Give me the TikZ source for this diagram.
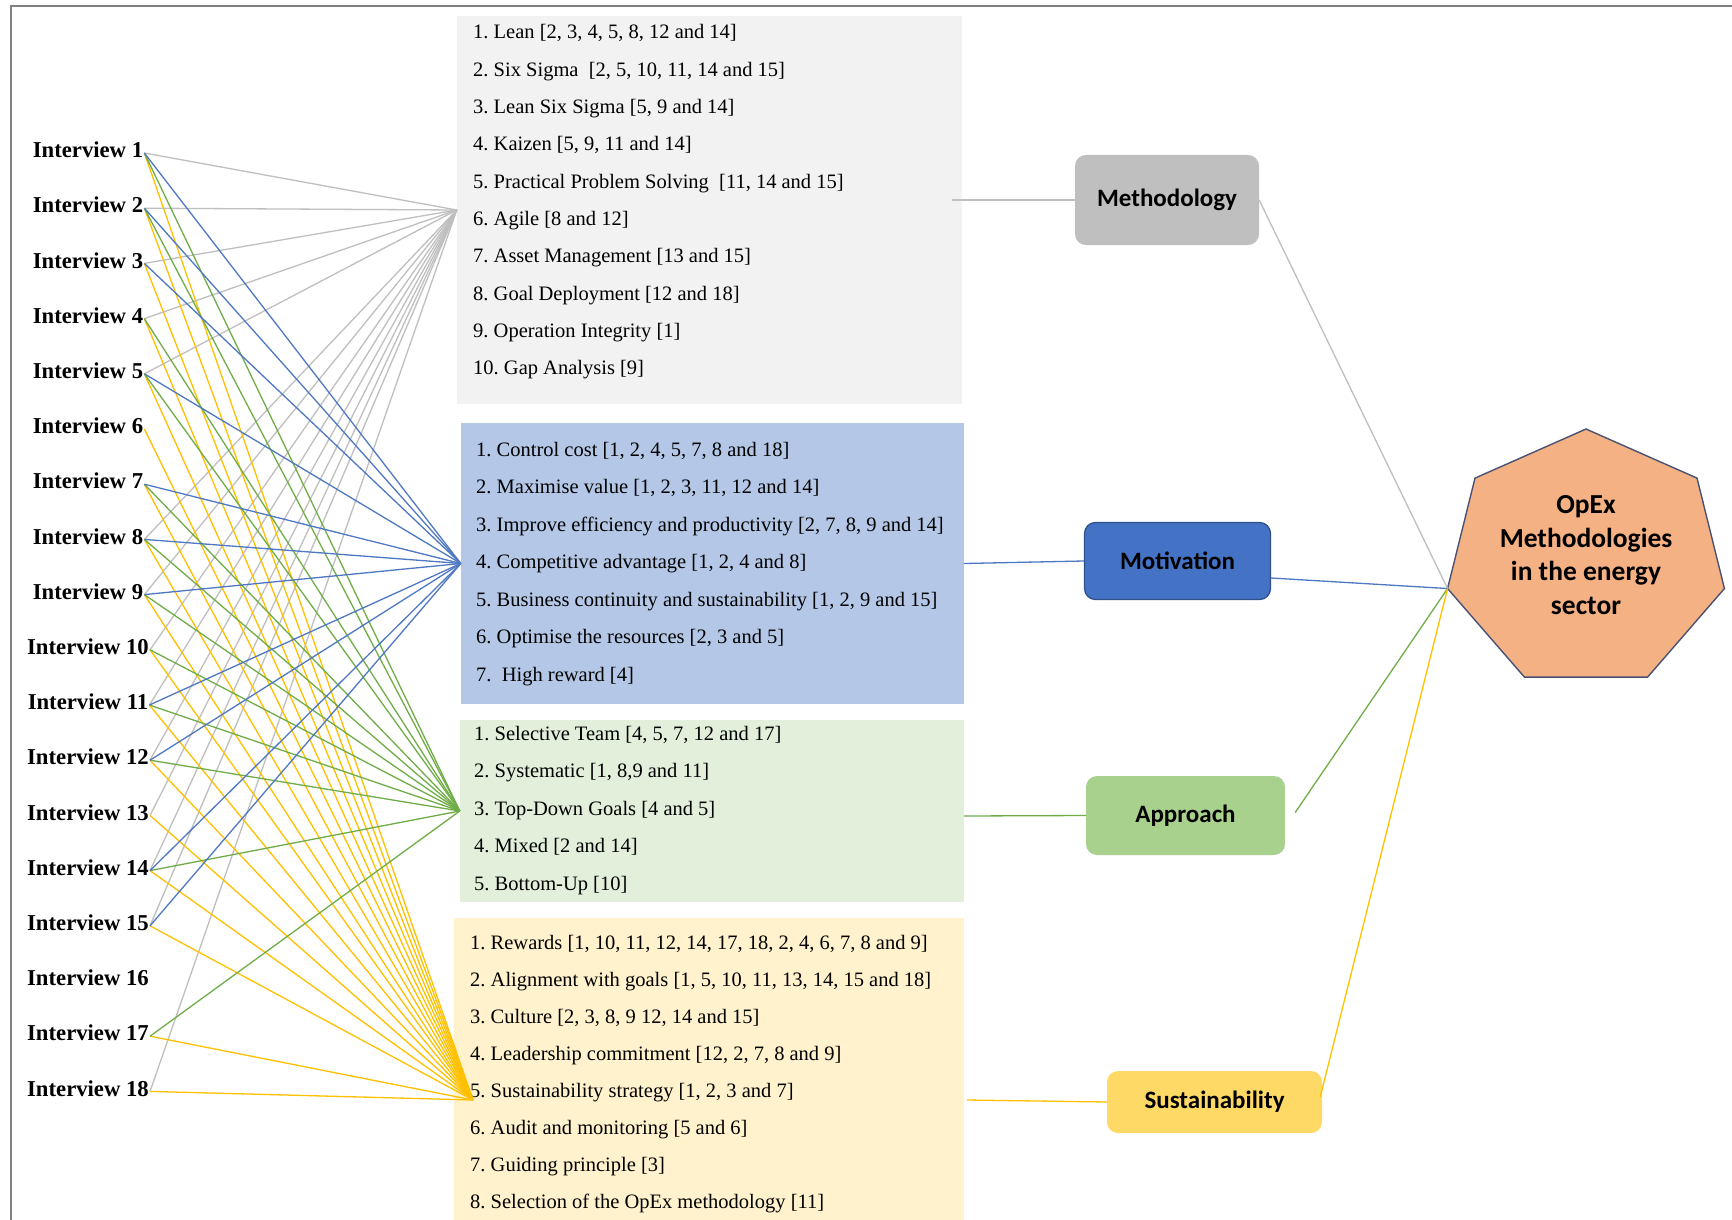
\documentclass[tikz,border=0pt]{standalone}
\usepackage{fontspec}
\setmainfont{Liberation Serif}
\newfontfamily\calib{Carlito}
\usetikzlibrary{calc}

\definecolor{methbg}{HTML}{F2F2F2}
\definecolor{motbg}{HTML}{B4C7E7}
\definecolor{appbg}{HTML}{E2EFDA}
\definecolor{susbg}{HTML}{FFF2CC}
\definecolor{methfill}{HTML}{BFBFBF}
\definecolor{motfill}{HTML}{4472C4}
\definecolor{motedge}{HTML}{2F528F}
\definecolor{appfill}{HTML}{A9D18E}
\definecolor{susfill}{HTML}{FFD966}
\definecolor{opexfill}{HTML}{F4B183}
\definecolor{opexedge}{HTML}{4A5274}
\definecolor{lgray}{HTML}{BFBFBF}
\definecolor{lblue}{HTML}{4F78C2}
\definecolor{lgreen}{HTML}{70AD47}
\definecolor{lyellow}{HTML}{FFC000}
\definecolor{framec}{HTML}{808080}

\tikzset{
  interview/.style={font=\fontsize{22.7}{26}\selectfont\bfseries, inner sep=0pt, anchor=center},
  item/.style={font=\fontsize{20.5}{24}\selectfont, inner sep=0pt, anchor=base west},
  listbox/.style={inner sep=0pt, draw=none},
  cat/.style={rounded corners=11pt, inner sep=0pt, align=center,
    font=\calib\bfseries\fontsize{25}{30}\selectfont},
  link/.style={line width=1.3pt},
}

\begin{document}
\frenchspacing
\begin{tikzpicture}[x=1pt, y=-1pt]
  \useasboundingbox (0,0) rectangle (1732,1220);
  \fill[white] (0,0) rectangle (1732,1220);
  \draw[framec, line width=1.5pt] (11,1220) -- (11,6) -- (1732,6);

  % coloured list panels
  \node[listbox, fill=methbg, minimum width=505pt, minimum height=388pt] (methlist) at (709.5,210) {};
  \node[listbox, fill=motbg,  minimum width=503pt, minimum height=281pt] (motlist) at (712.5,563.5) {};
  \node[listbox, fill=appbg,  minimum width=504pt, minimum height=182pt] (applist) at (712,811) {};
  \node[listbox, fill=susbg,  minimum width=510pt, minimum height=304pt] (suslist) at (709,1070) {};

  % interviews
  \foreach \k in {1,...,18}
    \node[interview] (i\k) at (88,{150+(\k-1)*55.2}) {Interview \k};
  \foreach \k in {1,...,18}
    \coordinate (s\k) at ($(i\k.east)+(1,3)$);

  % list entries
  \foreach \t [count=\i] in {
    {1. Lean [2, 3, 4, 5, 8, 12 and 14]},
    {2. Six Sigma~ [2, 5, 10, 11, 14 and 15]},
    {3. Lean Six Sigma [5, 9 and 14]},
    {4. Kaizen [5, 9, 11 and 14]},
    {5. Practical Problem Solving~ [11, 14 and 15]},
    {6. Agile [8 and 12]},
    {7. Asset Management [13 and 15]},
    {8. Goal Deployment [12 and 18]},
    {9. Operation Integrity [1]},
    {10. Gap Analysis [9]}}
    \node[item] (meth\i) at (473,{39+(\i-1)*37.3}) {\t};

  \foreach \t [count=\i] in {
    {1. Control cost [1, 2, 4, 5, 7, 8 and 18]},
    {2. Maximise value [1, 2, 3, 11, 12 and 14]},
    {3. Improve efficiency and productivity [2, 7, 8, 9 and 14]},
    {4. Competitive advantage [1, 2, 4 and 8]},
    {5. Business continuity and sustainability [1, 2, 9 and 15]},
    {6. Optimise the resources [2, 3 and 5]},
    {7.~ High reward [4]}}
    \node[item] (mot\i) at (476,{456+(\i-1)*37.5}) {\t};

  \foreach \t [count=\i] in {
    {1. Selective Team [4, 5, 7, 12 and 17]},
    {2. Systematic [1, 8,9 and 11]},
    {3. Top-Down Goals [4 and 5]},
    {4. Mixed [2 and 14]},
    {5. Bottom-Up [10]}}
    \node[item] (app\i) at (474,{740+(\i-1)*37.5}) {\t};

  \foreach \t [count=\i] in {
    {1. Rewards [1, 10, 11, 12, 14, 17, 18, 2, 4, 6, 7, 8 and 9]},
    {2. Alignment with goals [1, 5, 10, 11, 13, 14, 15 and 18]},
    {3. Culture [2, 3, 8, 9 12, 14 and 15]},
    {4. Leadership commitment [12, 2, 7, 8 and 9]},
    {5. Sustainability strategy [1, 2, 3 and 7]},
    {6. Audit and monitoring [5 and 6]},
    {7. Guiding principle [3]},
    {8. Selection of the OpEx methodology [11]}}
    \node[item] (sus\i) at (470,{949+(\i-1)*37.1}) {\t};

  % hub points
  \coordinate (hubS) at (473,1100);

  % interview-to-list links
  \foreach \k in {1,2,3,4,5,8,9,10,11,12,13,14,15,18}
    \draw[link, lgray] (s\k) -- (methlist.west);
  \foreach \k in {1,2,3,4,5,6,7,8,9,10,11,12,13,14,15,17,18}
    \draw[link, lyellow] (s\k) -- (hubS);
  \foreach \k in {1,2,4,5,7,8,9,10,11,12,14,17}
    \draw[link, lgreen] (s\k) -- (applist.west);
  \foreach \k in {1,2,3,5,7,8,9,11,12,14,15}
    \draw[link, lblue] (s\k) -- (motlist.west);

  % category boxes
  \node[cat, fill=methfill, minimum width=184pt, minimum height=90pt] (methn) at (1167,200) {Methodology};
  \node[cat, fill=motfill, draw=motedge, line width=1.3pt, minimum width=186pt, minimum height=77pt] (motn) at (1177.5,561) {Motivation};
  \node[cat, fill=appfill, minimum width=199pt, minimum height=79pt] (appn) at (1185.5,815.5) {Approach};
  \node[cat, fill=susfill, minimum width=215pt, minimum height=62pt] (susn) at (1214.5,1102) {Sustainability};

  % central heptagon
  \draw[fill=opexfill, draw=opexedge, line width=1.4pt]
    (1586,429) -- (1474.98,478.13) -- (1447.56,588.54) -- (1524.39,677.08)
    -- (1647.61,677.08) -- (1724.44,588.54) -- (1697.02,478.13) -- cycle;
  \coordinate (hL) at (1447.56,588.54);
  \node[align=center, inner sep=0pt, font=\calib\bfseries\fontsize{27.5}{33.5}\selectfont]
    (opex) at (1586,555) {OpEx\\Methodologies\\in the energy\\sector};

  % list-to-category links
  \coordinate (methout) at (952,200);
  \coordinate (susout) at (967,1100);
  \draw[link, lgray] (methout) -- (methn.west);
  \draw[link, lblue] (motlist.east) -- (motn.west);
  \draw[link, lgreen] ($(applist.east)+(0,5)$) -- (appn.west);
  \draw[link, lyellow] (susout) -- (susn.west);

  % category-to-centre links
  \draw[link, lgray] (methn.east) -- (hL);
  \draw[link, lblue] ($(motn.east)+(0,17)$) -- (hL);
  \draw[link, lgreen] ($(appn.east)+(10,-3)$) -- (hL);
  \draw[link, lyellow] ($(susn.east)+(-2,-5)$) -- (hL);
\end{tikzpicture}
\end{document}
